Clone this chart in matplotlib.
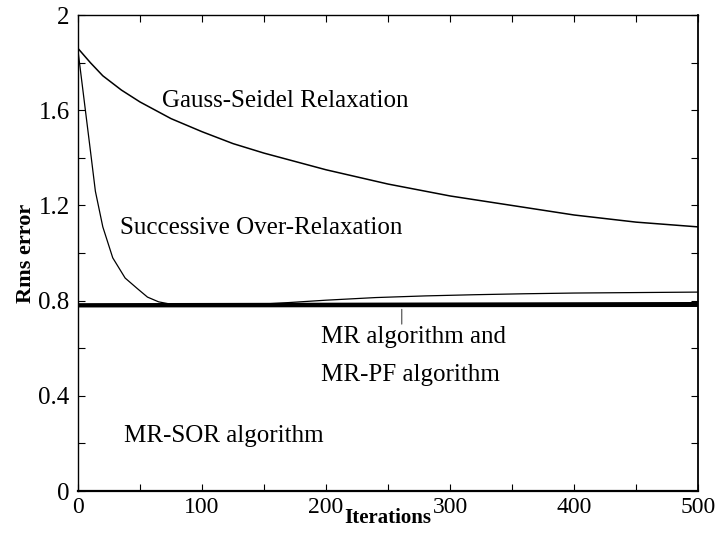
import matplotlib
matplotlib.use("Agg")
import matplotlib.pyplot as plt
from matplotlib.ticker import MultipleLocator, FixedLocator

# ---- data ----
gs_x = [0, 10, 20, 35, 50, 75, 100, 125, 150, 200, 250, 300, 350, 400, 450, 500]
gs_y = [1.86, 1.80, 1.745, 1.685, 1.635, 1.565, 1.51, 1.46, 1.42, 1.35, 1.29,
        1.24, 1.20, 1.16, 1.13, 1.11]

sor_x = [0, 5, 10, 14, 20, 28, 38, 48, 56, 65, 75, 100, 140, 170, 200,
         240, 280, 320, 360, 400, 450, 500]
sor_y = [1.85, 1.64, 1.43, 1.26, 1.11, 0.98, 0.895, 0.85, 0.815, 0.795,
         0.785, 0.782, 0.783, 0.792, 0.802, 0.813, 0.820, 0.825, 0.829,
         0.832, 0.834, 0.836]

mr_x = [0, 500]
mr_y = [0.779, 0.781]
mrpf_x = [0, 500]
mrpf_y = [0.783, 0.788]

x_ticks = [0, 100, 200, 300, 400, 500]
x_ticklabels = ["0", "100", "200", "300", "400", "500"]
y_ticks = [0, 0.4, 0.8, 1.2, 1.6, 2.0]
y_ticklabels = ["0", "0.4", "0.8", "1.2", "1.6", "2"]

plt.rcParams['font.family'] = ['Liberation Serif', 'DejaVu Serif']

fig = plt.figure(figsize=(7.25, 5.40), dpi=100)
ax = fig.add_axes([0.1076, 0.0907, 0.963 - 0.1076, 0.972 - 0.0907])

ax.plot(gs_x, gs_y, color='black', lw=1.1)
ax.plot(sor_x, sor_y, color='black', lw=0.9)
ax.plot(mr_x, mr_y, color='black', lw=2.6, solid_capstyle='butt')
ax.plot(mrpf_x, mrpf_y, color='black', lw=2.2, solid_capstyle='butt')

ax.set_xlim(0, 500)
ax.set_ylim(0, 2)

ax.xaxis.set_major_locator(FixedLocator(x_ticks))
ax.set_xticklabels(x_ticklabels)
ax.xaxis.set_minor_locator(MultipleLocator(50))
ax.yaxis.set_major_locator(FixedLocator(y_ticks))
ax.set_yticklabels(y_ticklabels)
ax.yaxis.set_minor_locator(MultipleLocator(0.2))

ax.tick_params(which='both', direction='in', top=True, right=True,
               length=5, width=0.8)
ax.tick_params(axis='x', labelsize=17, pad=4)
ax.tick_params(axis='y', labelsize=18, pad=6)
for s in ax.spines.values():
    s.set_linewidth(1.0)
ax.spines['bottom'].set_linewidth(1.6)
ax.spines['right'].set_linewidth(1.3)

ax.set_xlabel("Iterations", fontsize=15, fontweight='bold', labelpad=-7)
ax.set_ylabel("Rms error", fontsize=16, fontweight='bold', labelpad=2)

tfs = 18
ax.text(68, 1.64, "Gauss-Seidel Relaxation", fontsize=tfs, va='center', ha='left')
ax.text(34, 1.105, "Successive Over-Relaxation", fontsize=tfs, va='center', ha='left')
ax.text(196, 0.647, "MR algorithm and", fontsize=tfs, va='center', ha='left')
ax.text(196, 0.487, "MR-PF algorithm", fontsize=tfs, va='center', ha='left')
ax.text(37, 0.23, "MR-SOR algorithm", fontsize=tfs, va='center', ha='left')

ax.annotate("", xy=(261, 0.775), xytext=(261, 0.69),
            arrowprops=dict(arrowstyle='-', color='0.35', lw=0.9))

fig.savefig("out.png", dpi=100)
